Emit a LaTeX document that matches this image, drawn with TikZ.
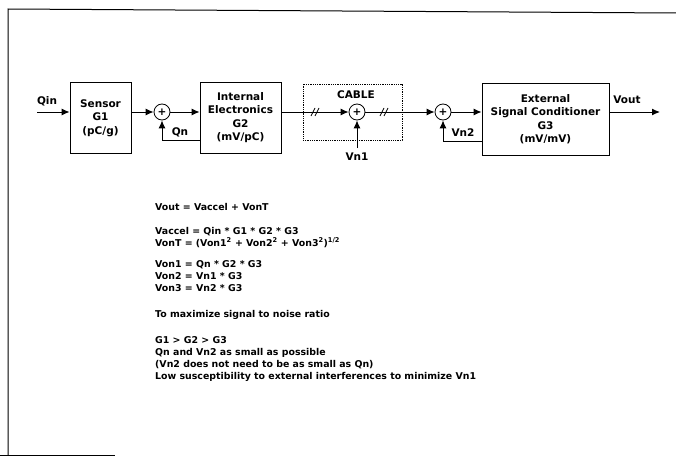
\documentclass[tikz,border=0pt]{standalone}
\usepackage{fontspec}
\setmainfont{DejaVu Sans}
\usetikzlibrary{arrows.meta}
\begin{document}
\begin{tikzpicture}[x=1pt,y=-1pt,
  font=\bfseries\fontsize{10.5}{13.5}\selectfont,
  blk/.style={draw, line width=0.9pt, align=center, inner sep=0pt},
  sumc/.style={draw, circle, minimum size=16pt, inner sep=0pt, line width=0.8pt},
  ln/.style={line width=1pt},
  arr/.style={ln, -{Latex[length=8pt,width=7pt]}},
  txt/.style={anchor=base west, inner sep=0pt, font=\bfseries\fontsize{9.4}{12}\selectfont},
  lbl/.style={inner sep=0pt}]
\useasboundingbox (0,0) rectangle (676,460);
% frame
\draw[line width=1pt] (8,455) -- (8,9) -- (676,13);
\draw[line width=1pt] (0,455) -- (115,455);
% blocks
\node[blk, minimum width=61pt, minimum height=71pt] (sens) at (100.5,118) {Sensor\\G1\\(pC/g)};
\node[blk, minimum width=81pt, minimum height=71pt] (ie) at (240.5,117.5) {Internal\\Electronics\\G2\\(mV/pC)};
\node[draw, densely dotted, line width=0.8pt, minimum width=99pt, minimum height=56pt, inner sep=0pt] (cab) at (352.5,112) {};
\node[lbl] (cabl) at (356,95) {CABLE};
\node[blk, minimum width=127pt, minimum height=72pt] (esc) at (545.5,119) {External\\Signal Conditioner\\G3\\(mV/mV)};
% summing junctions
\node[sumc] (s1) at (162,112) {+};
\node[sumc] (s2) at (357,112) {+};
\node[sumc] (s3) at (443,112) {+};
% coordinates
\coordinate (qin) at (37,112);
\coordinate (vo) at (660,112);
\coordinate (qnc) at (162,140);
\coordinate (vn1) at (357,148);
\coordinate (vn2c) at (443,141);
% connectors
\draw[arr] (qin) -- (sens.west |- qin);
\draw[arr] (sens.east |- s1) -- (s1);
\draw[arr] (s1) -- (ie.west |- s1);
\draw[arr] (ie.east |- s2) -- (s2);
\draw[arr] (s2) -- (s3);
\draw[arr] (s3) -- (esc.west |- s3);
\draw[arr] (esc.east |- vo) -- (vo);
\draw[arr] (ie.west |- qnc) -- (qnc) -- (s1);
\draw[arr] (vn1) -- (s2);
\draw[arr] (esc.west |- vn2c) -- (vn2c) -- (s3);
% cable breaks
\draw[line width=0.7pt] (311,116) -- (315,108) (315,116) -- (319,108);
\draw[line width=0.7pt] (380,116) -- (384,108) (384,116) -- (388,108);
% labels
\node[lbl] (lqin) at (47,101) {Qin};
\node[lbl] (lqn) at (180,132) {Qn};
\node[lbl] (lvn1) at (357,157) {Vn1};
\node[lbl] (lvn2) at (463,133) {Vn2};
\node[lbl] (lvout) at (627,100) {Vout};
% equations
\node[txt] (t1) at (155,210) {Vout = Vaccel + VonT};
\node[txt] (t2) at (155,234) {Vaccel = Qin * G1 * G2 * G3};
\node[txt] (t3) at (155,246) {VonT = (Von1\textsuperscript{2} + Von2\textsuperscript{2} + Von3\textsuperscript{2})\textsuperscript{1/2}};
\node[txt] (t4) at (155,267) {Von1 = Qn * G2 * G3};
\node[txt] (t5) at (155,279) {Von2 = Vn1 * G3};
\node[txt] (t6) at (155,291) {Von3 = Vn2 * G3};
\node[txt] (t7) at (155,317) {To maximize signal to noise ratio};
\node[txt] (t8) at (155,343) {G1 > G2 > G3};
\node[txt] (t9) at (155,355) {Qn and Vn2 as small as possible};
\node[txt] (t10) at (155,367) {(Vn2 does not need to be as small as Qn)};
\node[txt] (t11) at (155,379) {Low susceptibility to external interferences to minimize Vn1};
\end{tikzpicture}
\end{document}
